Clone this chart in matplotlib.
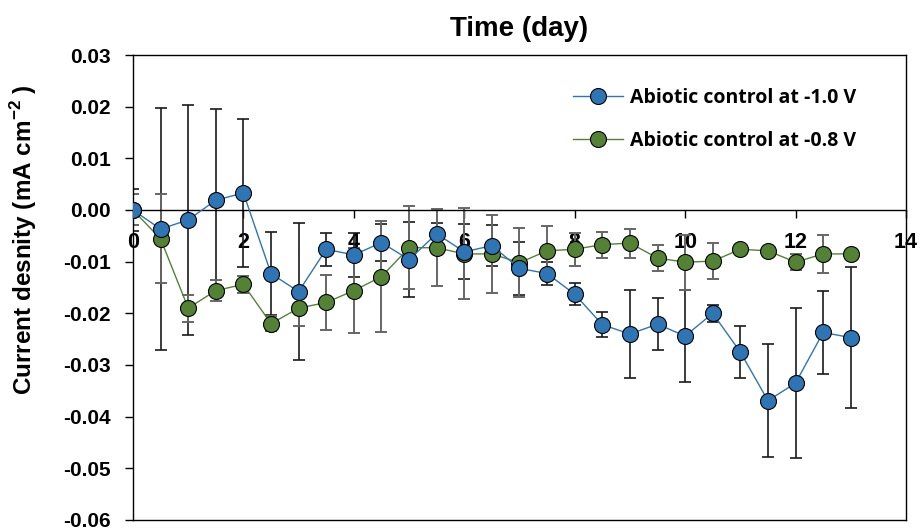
import matplotlib
matplotlib.use("Agg")
import matplotlib.pyplot as plt
import numpy as np

plt.rcParams['axes.unicode_minus'] = False
plt.rcParams['font.family'] = ['Liberation Sans', 'DejaVu Sans']
plt.rcParams['mathtext.fontset'] = 'custom'
plt.rcParams['mathtext.rm'] = 'Liberation Sans'
plt.rcParams['mathtext.bf'] = 'Liberation Sans:bold'

# time points (day)
days = [0, 0.5, 1, 1.5, 2, 2.5, 3, 3.5, 4, 4.5, 5, 5.5, 6, 6.5, 7,
        7.5, 8, 8.5, 9, 9.5, 10, 10.5, 11, 11.5, 12, 12.5, 13]

# current density (mA cm-2) and standard deviation
j_10 = [0.0, -0.0037, -0.0019, 0.0019, 0.0033, -0.0123, -0.0158, -0.0076,
        -0.0087, -0.0063, -0.0096, -0.0046, -0.0081, -0.0069, -0.0113,
        -0.0123, -0.0163, -0.0222, -0.0240, -0.0221, -0.0244, -0.0200,
        -0.0275, -0.0369, -0.0335, -0.0237, -0.0247]
err_10 = [0.004, 0.0234, 0.0222, 0.0177, 0.0143, 0.0081, 0.0133, 0.0032,
          0.0042, 0.0036, 0.0072, 0.002, 0.0053, 0.0039, 0.0052,
          0.0023, 0.0021, 0.0024, 0.0085, 0.005, 0.0089, 0.0017,
          0.005, 0.011, 0.0146, 0.008, 0.0136]

j_08 = [0.0, -0.0056, -0.0190, -0.0156, -0.0144, -0.0220, -0.0190, -0.0179,
        -0.0156, -0.0129, -0.0073, -0.0073, -0.0085, -0.0085, -0.0102,
        -0.0079, -0.0076, -0.0067, -0.0064, -0.0093, -0.0101, -0.0099,
        -0.0076, -0.0079, -0.0101, -0.0085, -0.0085]
err_08 = [0.003, 0.0086, 0.0026, 0.002, 0.0017, 0.0015, 0.0035, 0.0053,
          0.0082, 0.0108, 0.008, 0.0075, 0.0088, 0.0075, 0.0067,
          0.0048, 0.0032, 0.0025, 0.0028, 0.0025, 0.0053, 0.0035,
          0.0005, 0.0005, 0.0015, 0.0036, 0.0005]

blue = '#2E75B6'
green = '#548235'

fig = plt.figure(figsize=(9.21, 5.32), dpi=100)
ax = fig.add_axes([0.1444, 0.0226, 0.8393, 0.874])

ax.errorbar(days, j_10, yerr=err_10, fmt='none', ecolor='#1a1a1a',
            elinewidth=1.2, capsize=4.5, capthick=1.2, zorder=2)
ax.errorbar(days, j_08, yerr=err_08, fmt='none', ecolor='#666666',
            elinewidth=1.4, capsize=4.5, capthick=1.4, zorder=2)

ax.plot(days, j_10, '-o', color=blue, lw=1, markersize=11.5,
        markerfacecolor=blue, markeredgecolor='black', markeredgewidth=0.8,
        label='Abiotic control at -1.0 V', zorder=4)
ax.plot(days, j_08, '-o', color=green, lw=1, markersize=11.5,
        markerfacecolor=green, markeredgecolor='black', markeredgewidth=0.8,
        label='Abiotic control at -0.8 V', zorder=3)

ax.set_xlim(0, 14)
ax.set_ylim(-0.06, 0.03)

# x axis crosses at y = 0, keep the box outline
ax.spines['bottom'].set_position(('data', 0))
ax.axhline(-0.06, color='black', lw=1, clip_on=False, zorder=5)
for s in ['top', 'right', 'left', 'bottom']:
    ax.spines[s].set_linewidth(1)

ax.set_xticks(np.arange(0, 15, 2))
ax.set_yticks(np.arange(-0.06, 0.031, 0.01))
ax.set_yticklabels(['%.2f' % v for v in np.arange(-0.06, 0.031, 0.01)])
ax.tick_params(axis='x', direction='out', length=6, width=1, pad=10,
               labelsize=15.5)
ax.tick_params(axis='y', direction='out', length=6, width=1, pad=10,
               labelsize=15)
for lab in ax.get_xticklabels() + ax.get_yticklabels():
    lab.set_fontweight('bold')

ax.set_title('Time (day)', fontsize=20, fontweight='bold', pad=14)
ax.set_ylabel('Current desnity (mA cm$^{\\mathbf{-2}}$ )', fontsize=17.5,
              fontweight='bold')
ax.yaxis.set_label_coords(-0.121, 0.604)

leg = ax.legend(loc='upper left', bbox_to_anchor=(0.569, 0.93), frameon=False,
                prop={'family': 'Open Sans', 'weight': 'bold', 'size': 14},
                handlelength=2.6, labelspacing=1.2, handletextpad=0.36,
                borderpad=0, borderaxespad=0)

fig.savefig('out.png', dpi=100)
